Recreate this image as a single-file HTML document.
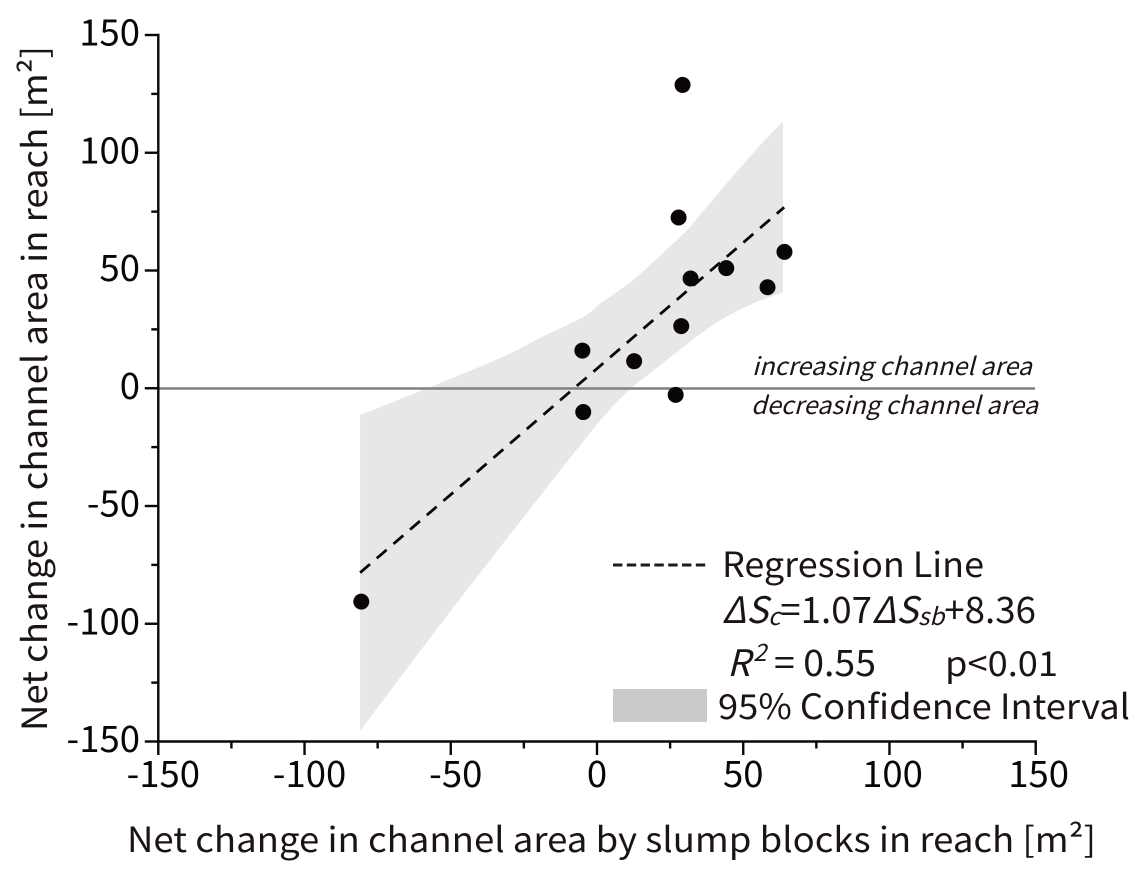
<!DOCTYPE html>
<html lang="en">
<head>
<meta charset="utf-8">
<title>Net change in channel area vs slump blocks</title>
<style>
html,body{margin:0;padding:0;background:#fff;width:1142px;height:872px;overflow:hidden}
svg{display:block}
text{font-family:"Noto Sans CJK JP","Liberation Sans",sans-serif;fill:#1c1412}
</style>
</head>
<body>
<svg id="chart" xmlns="http://www.w3.org/2000/svg" width="1142" height="872" viewBox="0 0 1142 872">
  <g id="band-layer"></g>
  <line x1="158" y1="388.5" x2="1035" y2="388.5" stroke="#808080" stroke-width="2.5"/>
  <g id="line-layer"></g>
  <g id="point-layer"></g>
  <g id="axis-layer"></g>

  <text x="127" y="852" font-size="34.5" textLength="969" lengthAdjust="spacingAndGlyphs">Net change in channel area by slump blocks in reach [m²]</text>
  <text transform="translate(47,731) rotate(-90)" x="0" y="0" font-size="34.5" textLength="685" lengthAdjust="spacingAndGlyphs">Net change in channel area in reach [m²]</text>

  <text x="752" y="375" font-size="24.5" font-style="italic" textLength="280" lengthAdjust="spacingAndGlyphs">increasing channel area</text>
  <text x="751" y="414" font-size="24.5" font-style="italic" textLength="287" lengthAdjust="spacingAndGlyphs">decreasing channel area</text>

  <g>
    <line x1="613" y1="565" x2="708" y2="565" stroke="#231815" stroke-width="3" stroke-dasharray="9.4 4.4"/>
    <text x="722" y="577" font-size="34.5" textLength="262" lengthAdjust="spacingAndGlyphs">Regression Line</text>
    <text x="722" y="623" font-size="36.5" textLength="314" lengthAdjust="spacingAndGlyphs"><tspan font-style="italic">ΔS</tspan><tspan font-style="italic" font-size="24" dy="2">c</tspan><tspan dy="-2">=1.07</tspan><tspan font-style="italic">ΔS</tspan><tspan font-style="italic" font-size="24" dy="2">sb</tspan><tspan dy="-2">+8.36</tspan></text>
    <text x="727" y="676" font-size="36.5"><tspan font-style="italic">R</tspan><tspan font-style="italic" font-size="24" dy="-15" dx="3">2</tspan></text>
    <text x="774" y="676" font-size="36.5" textLength="102" lengthAdjust="spacingAndGlyphs">= 0.55</text>
    <text x="945" y="676" font-size="34.5" textLength="113" lengthAdjust="spacingAndGlyphs">p&lt;0.01</text>
    <rect x="613" y="689" width="94" height="33" fill="#c9caca"/>
    <text x="718" y="719" font-size="34.5" textLength="412" lengthAdjust="spacingAndGlyphs">95% Confidence Interval</text>
  </g>
</svg>
<script>
const xPoints = [29.25, 27.9, 32, 44.2, 64.1, 58.3, 28.8, -5, 12.7, 26.9, -4.7, -80.6];
const yPoints = [128.8, 72.5, 46.6, 51, 57.9, 42.9, 26.4, 16, 11.5, -2.8, -10.1, -90.6];

const upperX = [-81, -57.1, -33.2, -19.5, -4.8, 1, 12.3, 21.5, 30.8, 35.2, 46.5, 58.1, 63.6];
const upperY = [-11.4, 0.5, 12.8, 21.3, 30.3, 35.8, 46, 56.2, 67.2, 73.6, 90.1, 106.3, 113.1];
const lowerX = [-81, -50.3, -20.5, -2.4, 4.5, 11.3, 23.9, 39.7, 52.3, 63.6];
const lowerY = [-145.5, -95, -47.5, -19, -9, -0.5, 12, 26.9, 35.4, 40.7];

const fitX = [-81, 64];
const fitSlope = 1.07;
const fitIntercept = 8.36;

const xTicks = [-150, -100, -50, 0, 50, 100, 150];
const yTicks = [-150, -100, -50, 0, 50, 100, 150];
const xMinorTicks = [-125, -75, -25, 25, 75, 125];
const yMinorTicks = [-125, -75, -25, 25, 75, 125];

const NS = 'http://www.w3.org/2000/svg';
const sx = v => 597 + v * (1035.7 - 158.3) / 300;
const sy = v => 388.25 - v * (741.5 - 35) / 300;

function make(tag, attrs, parent) {
  const el = document.createElementNS(NS, tag);
  for (const k in attrs) el.setAttribute(k, attrs[k]);
  parent.appendChild(el);
  return el;
}

/* smooth path through the band outline points */
function smooth(pts) {
  let d = '';
  for (let i = 0; i < pts.length - 1; i++) {
    const p0 = pts[Math.max(i - 1, 0)], p1 = pts[i], p2 = pts[i + 1], p3 = pts[Math.min(i + 2, pts.length - 1)];
    const c1x = p1[0] + (p2[0] - p0[0]) / 6, c1y = p1[1] + (p2[1] - p0[1]) / 6;
    const c2x = p2[0] - (p3[0] - p1[0]) / 6, c2y = p2[1] - (p3[1] - p1[1]) / 6;
    d += 'C' + c1x.toFixed(1) + ' ' + c1y.toFixed(1) + ' ' + c2x.toFixed(1) + ' ' + c2y.toFixed(1) + ' ' + p2[0].toFixed(1) + ' ' + p2[1].toFixed(1);
  }
  return d;
}

const upperPts = upperX.map((x, i) => [sx(x), sy(upperY[i])]);
const lowerPts = lowerX.map((x, i) => [sx(x), sy(lowerY[i])]);
const bandD = 'M' + upperPts[0][0].toFixed(1) + ' ' + upperPts[0][1].toFixed(1) + smooth(upperPts) +
  'L' + lowerPts[lowerPts.length - 1][0].toFixed(1) + ' ' + lowerPts[lowerPts.length - 1][1].toFixed(1) +
  smooth(lowerPts.slice().reverse()) + 'Z';
const band = make('path', { d: bandD, fill: '#e6e7e7' }, document.getElementById('band-layer'));



const fit = make('line', {
  x1: sx(fitX[0]), y1: sy(fitSlope * fitX[0] + fitIntercept),
  x2: sx(fitX[1]), y2: sy(fitSlope * fitX[1] + fitIntercept),
  stroke: '#0a0506', 'stroke-width': 2.8, 'stroke-dasharray': '13 9'
}, document.getElementById('line-layer'));



const pointLayer = document.getElementById('point-layer');
xPoints.forEach((x, i) => {
  const c = make('circle', { cx: sx(x), cy: sy(yPoints[i]), r: 8, fill: '#0a0506' }, pointLayer);
  
  
});

const axisLayer = document.getElementById('axis-layer');
const axisStyle = { stroke: '#0a0506', 'stroke-width': 2.4, fill: 'none' };
const xAxis = make('line', Object.assign({ x1: sx(-150) - 1.2, y1: sy(-150), x2: sx(150) + 1.2, y2: sy(-150) }, axisStyle), axisLayer);


const yAxis = make('line', Object.assign({ x1: sx(-150), y1: sy(150) - 1.2, x2: sx(-150), y2: sy(-150) + 1.2 }, axisStyle), axisLayer);



xTicks.forEach(v => {
  const t = make('line', Object.assign({ x1: sx(v), y1: sy(-150), x2: sx(v), y2: sy(-150) + 13.5 }, axisStyle), axisLayer);
  
  
  const offset = v < 0 ? 5 : (v >= 100 ? 3 : 0);
  const label = make('text', { x: sx(v) + offset, y: 787, 'font-size': 36.5, 'text-anchor': 'middle', style: 'fill:#0a0506' }, axisLayer);
  label.textContent = String(v);
  
  
});
xMinorTicks.forEach(v => {
  const t = make('line', Object.assign({ x1: sx(v), y1: sy(-150), x2: sx(v), y2: sy(-150) + 7 }, axisStyle), axisLayer);
  
  
});
yTicks.forEach(v => {
  const t = make('line', Object.assign({ x1: sx(-150) - 13.5, y1: sy(v), x2: sx(-150), y2: sy(v) }, axisStyle), axisLayer);
  
  
  const label = make('text', { x: 140, y: sy(v) + 10.5, 'font-size': 36.5, 'text-anchor': 'end', style: 'fill:#0a0506' }, axisLayer);
  label.textContent = String(v);
  
  
});
yMinorTicks.forEach(v => {
  const t = make('line', Object.assign({ x1: sx(-150) - 7, y1: sy(v), x2: sx(-150), y2: sy(v) }, axisStyle), axisLayer);
  
  
});
</script>
</body>
</html>
